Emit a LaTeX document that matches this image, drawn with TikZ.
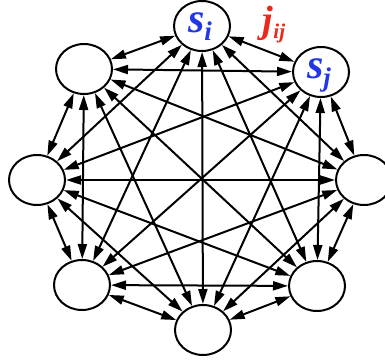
\documentclass[tikz,border=0pt]{standalone}
\usepackage{fontspec}
\setmainfont{Liberation Serif}
\usetikzlibrary{shapes.geometric,arrows.meta}
\definecolor{sblue}{RGB}{35,55,230}
\definecolor{jred}{RGB}{235,40,25}
\begin{document}
\begin{tikzpicture}[x=1pt,y=-1pt,
  vert/.style={ellipse,draw,line width=2pt,fill=white,minimum width=56pt,minimum height=50pt,inner sep=0pt},
  edge/.style={line width=2pt,{Triangle[length=15pt,width=9pt]}-{Triangle[length=15pt,width=9pt]}},
  lab/.style={font=\bfseries\itshape\fontsize{42}{42}\selectfont,text=sblue,inner sep=0pt}]
\useasboundingbox (0,0) rectangle (385,362);
\node[vert] (n1) at (202,26) {};
\node[vert] (n2) at (321,72) {};
\node[vert] (n3) at (364,180) {};
\node[vert] (n4) at (317,286) {};
\node[vert] (n5) at (203,330) {};
\node[vert] (n6) at (82,285) {};
\node[vert] (n7) at (37,180) {};
\node[vert] (n8) at (84,69) {};
\foreach \a in {1,...,7}{
  \pgfmathtruncatemacro\nb{\a+1}
  \foreach \b in {\nb,...,8}{\draw[edge] (n\a) -- (n\b);}
}
\node[lab] (ti) at (200,27) {s\raisebox{-8pt}{\fontsize{27}{27}\selectfont i}};
\node[lab] (tj) at (319,75) {s\raisebox{-8pt}{\fontsize{27}{27}\selectfont j}};
\node[lab,text=jred,font=\bfseries\itshape\fontsize{38}{38}\selectfont] (jij) at (274,25) {j\raisebox{-6pt}{\fontsize{21}{21}\selectfont ij}};
\end{tikzpicture}
\end{document}
